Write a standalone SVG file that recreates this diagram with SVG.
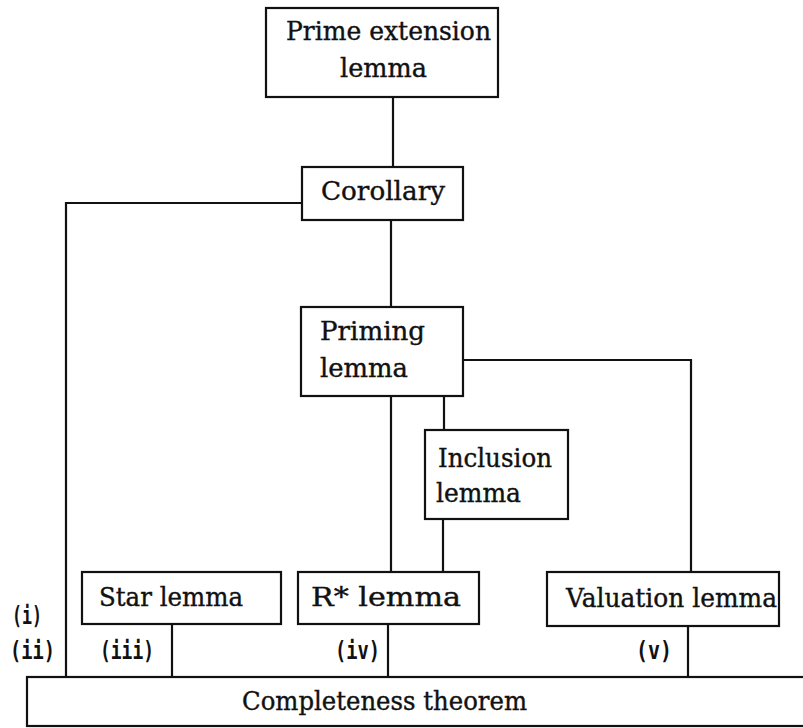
<svg xmlns="http://www.w3.org/2000/svg" width="803" height="728" viewBox="0 0 803 728">
  <style>
    .box { fill: #fff; stroke: #111; stroke-width: 2.2; }
    .wire { fill: none; stroke: #111; stroke-width: 2.2; }
    .t { font-family: "DejaVu Serif", "Liberation Serif", serif; font-size: 26px; fill: #111; stroke: #111; stroke-width: 0.4; }
    .tag { font-family: "DejaVu Sans Mono", "Liberation Mono", monospace; font-size: 24px; font-weight: bold; fill: #111; }
  </style>
  <rect width="803" height="728" fill="#fff"/>

  <!-- connectors -->
  <g id="connectors">
    <path class="wire" d="M393 97 V167"/>
    <path class="wire" d="M302 203 H66 V677"/>
    <path class="wire" d="M391 220 V307"/>
    <path class="wire" d="M391 396 V572"/>
    <path class="wire" d="M444 396 V430"/>
    <path class="wire" d="M443 519 V572"/>
    <path class="wire" d="M463 360 H691 V572"/>
    <path class="wire" d="M172 624 V677"/>
    <path class="wire" d="M388 624 V677"/>
    <path class="wire" d="M688 626 V677"/>
  </g>

  <g id="prime-extension">
    <rect class="box" x="266" y="8" width="232" height="89"/>
    <text class="t" x="286" y="40" textLength="205" lengthAdjust="spacingAndGlyphs">Prime extension</text>
    <text class="t" x="340" y="77" textLength="87" lengthAdjust="spacingAndGlyphs">lemma</text>
  </g>

  <g id="corollary">
    <rect class="box" x="302" y="167" width="161" height="53"/>
    <text class="t" x="321" y="200" textLength="124" lengthAdjust="spacingAndGlyphs">Corollary</text>
  </g>

  <g id="priming">
    <rect class="box" x="301" y="307" width="162" height="89"/>
    <text class="t" x="320" y="340" textLength="105" lengthAdjust="spacingAndGlyphs">Priming</text>
    <text class="t" x="320" y="377" textLength="88" lengthAdjust="spacingAndGlyphs">lemma</text>
  </g>

  <g id="inclusion">
    <rect class="box" x="425" y="430" width="143" height="89"/>
    <text class="t" x="438" y="467" textLength="114" lengthAdjust="spacingAndGlyphs">Inclusion</text>
    <text class="t" x="436" y="502" textLength="85" lengthAdjust="spacingAndGlyphs">lemma</text>
  </g>

  <g id="star">
    <rect class="box" x="82" y="572" width="199" height="52"/>
    <text class="t" x="99" y="606" textLength="144" lengthAdjust="spacingAndGlyphs">Star lemma</text>
  </g>

  <g id="r-star">
    <rect class="box" x="298" y="572" width="181" height="52"/>
    <text class="t" x="311" y="606" textLength="150" lengthAdjust="spacingAndGlyphs">R* lemma</text>
  </g>

  <g id="valuation">
    <rect class="box" x="547" y="572" width="232" height="54"/>
    <text class="t" x="566" y="607" textLength="211" lengthAdjust="spacingAndGlyphs">Valuation lemma</text>
  </g>

  <g id="completeness">
    <rect class="box" x="27" y="677" width="790" height="49"/>
    <text class="t" x="242" y="710" textLength="285" lengthAdjust="spacingAndGlyphs">Completeness theorem</text>
  </g>

  <!-- case labels -->
  <g id="labels">
    <text class="tag" x="12" y="624" textLength="30" lengthAdjust="spacingAndGlyphs">(i)</text>
    <text class="tag" x="10" y="659" textLength="45" lengthAdjust="spacingAndGlyphs">(ii)</text>
    <text class="tag" x="100" y="659" textLength="54" lengthAdjust="spacingAndGlyphs">(iii)</text>
    <text class="tag" x="335" y="659" textLength="45" lengthAdjust="spacingAndGlyphs">(iv)</text>
    <text class="tag" x="636" y="659" textLength="36" lengthAdjust="spacingAndGlyphs">(v)</text>
  </g>
</svg>
